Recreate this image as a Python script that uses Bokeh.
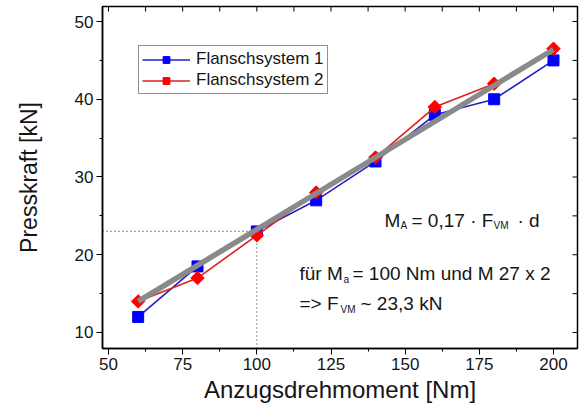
from bokeh.plotting import figure
from bokeh.models import Range1d, FixedTicker, Label, Legend, LegendItem
from bokeh.embed import file_html
from bokeh.resources import INLINE

# ---- data ----
torque = [60, 80, 100, 120, 140, 160, 180, 200]
force_fs1 = [12, 18.5, 23, 27, 32, 38, 40, 45]
force_fs2 = [14, 17, 22.5, 28, 32.5, 39, 42, 46.5]
fit_x = [60, 200]
fit_y = [14, 46.4]
ref_torque = 100
ref_force = 23
series_names = ["Flanschsystem 1", "Flanschsystem 2"]

x_major = [50, 75, 100, 125, 150, 175, 200]
x_minor = [62.5, 87.5, 112.5, 137.5, 162.5, 187.5]
y_major = [10, 20, 30, 40, 50]
y_minor = [15, 25, 35, 45]

FONT = "Liberation Sans"
TXT = "#151515"
W, H = 584, 410
BL, BR, BT, BB = 102, 7, 6, 62
FW, FH = W - BL - BR, H - BT - BB
X0, X1 = 47.977, 208.09
Y0, Y1 = 7.94, 51.93

p = figure(width=W, height=H, x_range=Range1d(X0, X1), y_range=Range1d(Y0, Y1),
           output_backend="svg", toolbar_location=None,
           min_border_left=BL, min_border_right=BR, min_border_top=BT, min_border_bottom=BB)
p.xgrid.visible = False
p.ygrid.visible = False
p.outline_line_color = "black"
p.outline_line_width = 1.5
p.background_fill_color = "white"
p.border_fill_color = "white"

xa = p.xaxis[0]
xa.ticker = FixedTicker(ticks=x_major, minor_ticks=x_minor)
xa.axis_label = "Anzugsdrehmoment [Nm]"
ya = p.yaxis[0]
ya.ticker = FixedTicker(ticks=y_major, minor_ticks=y_minor)
ya.axis_label = "Presskraft [kN]"
for ax in (xa, ya):
    ax.axis_line_color = "black"
    ax.axis_line_width = 1.5
    ax.major_tick_in = 0
    ax.major_tick_out = 6
    ax.minor_tick_in = 0
    ax.minor_tick_out = 3
    ax.major_tick_line_color = "black"
    ax.minor_tick_line_color = "black"
    ax.major_label_text_font = FONT
    ax.major_label_text_font_size = "17px"
    ax.major_label_text_color = TXT
    ax.axis_label_text_font = FONT
    ax.axis_label_text_font_style = "normal"
    ax.axis_label_text_color = TXT
xa.axis_label_text_font_size = "24px"
ya.axis_label_text_font_size = "23px"
xa.major_label_standoff = 3
xa.axis_label_standoff = 3
ya.major_label_standoff = 3
ya.axis_label_standoff = 30

# inward ticks on top and right frame edges
tx = sorted(x_major + x_minor)
ty = sorted(y_major + y_minor)
tlen_y = 5 * (Y1 - Y0) / FH
tlen_x = 5 * (X1 - X0) / FW
p.segment(x0=tx, y0=[Y1] * len(tx), x1=tx, y1=[Y1 - tlen_y] * len(tx), line_color="black", line_width=1)
p.segment(x0=[X1] * len(ty), y0=ty, x1=[X1 - tlen_x] * len(ty), y1=ty, line_color="black", line_width=1)

# dotted reference lines
p.segment(x0=[X0], y0=[ref_force], x1=[ref_torque], y1=[ref_force],
          line_color="#444444", line_width=1.2, line_dash="1 3")
p.segment(x0=[ref_torque], y0=[ref_force], x1=[ref_torque], y1=[Y0],
          line_color="#444444", line_width=1.2, line_dash="1 3")

l1 = p.line(torque, force_fs1, line_color="#2020c8", line_width=1.6)
m1 = p.scatter(torque, force_fs1, marker="square", size=11, fill_color="#0000ff", line_color="#0000ff")
l2 = p.line(torque, force_fs2, line_color="#dd2020", line_width=1.6)
m2 = p.scatter(torque, force_fs2, marker="square", angle=0.7854, size=9.5,
               fill_color="#ff0000", line_color="#ff0000")
p.line(fit_x, fit_y, line_color="#8a8a8a", line_width=5.5)

legend = Legend(items=[LegendItem(label=series_names[0], renderers=[l1, m1]),
                       LegendItem(label=series_names[1], renderers=[l2, m2])],
                location=(36, 254), glyph_width=48, glyph_height=17, label_height=17,
                label_text_font=FONT, label_text_font_size="17px", label_text_color=TXT,
                padding=3, spacing=1, margin=0, label_standoff=6,
                border_line_color="#222222", border_line_width=1, background_fill_alpha=1)
p.add_layout(legend)

# annotations: page-pixel anchors, mapped to data units
def dx(px):
    return X0 + (px - BL) / FW * (X1 - X0)

def dy(py):
    return Y1 - (py - BT) / FH * (Y1 - Y0)

texts = [
    ("M", 384, 220, 19), ("A", 400, 225, 10), ("= 0,17 · F", 411, 220, 19),
    ("VM", 493, 225, 10), ("· d", 517, 220, 19),
    ("für M", 299, 273, 19), ("a", 343, 279, 10), ("= 100 Nm und M 27 x 2", 352, 273, 19),
    ("=> F", 299, 303, 19), ("VM", 340, 309, 10), ("~ 23,3 kN", 360, 303, 19),
]
for t, px, py, fs in texts:
    p.add_layout(Label(x=dx(px), y=dy(py), text=t, text_font=FONT,
                       text_font_size=f"{fs}px", text_color=TXT,
                       text_baseline="alphabetic", text_align="left"))

open("out.html", "w").write(file_html(p, INLINE))
